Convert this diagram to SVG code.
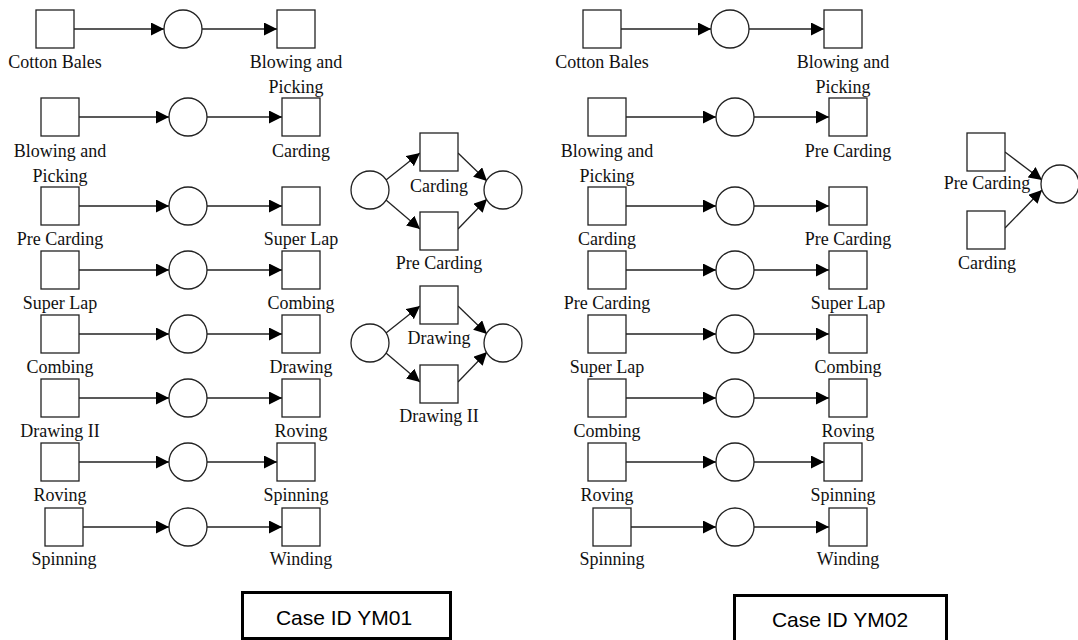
<svg xmlns="http://www.w3.org/2000/svg" width="1078" height="640" viewBox="0 0 1078 640">
<style>
.t{fill:#fff;stroke:#222;stroke-width:1.3}
.p{fill:#fff;stroke:#222;stroke-width:1.3}
.l{font-family:"Liberation Serif","Times New Roman",serif;font-size:18px;fill:#111;text-anchor:middle}
.a{stroke:#222;stroke-width:1.3;fill:none;marker-end:url(#ah)}
.c{fill:#fff;stroke:#000;stroke-width:3}
.ct{font-family:"Liberation Sans",Arial,sans-serif;font-size:21px;fill:#000;text-anchor:middle}
</style>
<defs>
<marker id="ah" markerUnits="userSpaceOnUse" markerWidth="13" markerHeight="13" refX="13" refY="6.5" orient="auto">
<path d="M0,0 L13,6.5 L0,13 z" fill="#000"/>
</marker>
</defs>
<rect width="1078" height="640" fill="#fff"/>
<g id="connectors">
<line class="a" x1="74" y1="29" x2="164" y2="29"/><line class="a" x1="202" y1="29" x2="277" y2="29"/>
<line class="a" x1="79" y1="117" x2="169" y2="117"/><line class="a" x1="207" y1="117" x2="282" y2="117"/>
<line class="a" x1="79" y1="206" x2="169" y2="206"/><line class="a" x1="207" y1="206" x2="282" y2="206"/>
<line class="a" x1="79" y1="270" x2="169" y2="270"/><line class="a" x1="207" y1="270" x2="282" y2="270"/>
<line class="a" x1="79" y1="334" x2="169" y2="334"/><line class="a" x1="207" y1="334" x2="282" y2="334"/>
<line class="a" x1="79" y1="398" x2="169" y2="398"/><line class="a" x1="207" y1="398" x2="282" y2="398"/>
<line class="a" x1="79" y1="462" x2="169" y2="462"/><line class="a" x1="207" y1="462" x2="277" y2="462"/>
<line class="a" x1="83" y1="527" x2="169" y2="527"/><line class="a" x1="207" y1="527" x2="282" y2="527"/>
<line class="a" x1="621" y1="29" x2="711" y2="29"/><line class="a" x1="749" y1="29" x2="824" y2="29"/>
<line class="a" x1="626" y1="117" x2="716" y2="117"/><line class="a" x1="754" y1="117" x2="829" y2="117"/>
<line class="a" x1="626" y1="206" x2="716" y2="206"/><line class="a" x1="754" y1="206" x2="829" y2="206"/>
<line class="a" x1="626" y1="270" x2="716" y2="270"/><line class="a" x1="754" y1="270" x2="829" y2="270"/>
<line class="a" x1="626" y1="334" x2="716" y2="334"/><line class="a" x1="754" y1="334" x2="829" y2="334"/>
<line class="a" x1="626" y1="398" x2="716" y2="398"/><line class="a" x1="754" y1="398" x2="829" y2="398"/>
<line class="a" x1="626" y1="462" x2="716" y2="462"/><line class="a" x1="754" y1="462" x2="824" y2="462"/>
<line class="a" x1="631" y1="527" x2="716" y2="527"/><line class="a" x1="754" y1="527" x2="829" y2="527"/>
<line class="a" x1="386" y1="180" x2="420" y2="153"/><line class="a" x1="386" y1="200" x2="420" y2="229"/>
<line class="a" x1="458" y1="153" x2="487" y2="181"/><line class="a" x1="458" y1="229" x2="487" y2="199"/>
<line class="a" x1="386" y1="333" x2="420" y2="306"/><line class="a" x1="386" y1="353" x2="420" y2="382"/>
<line class="a" x1="458" y1="306" x2="487" y2="334"/><line class="a" x1="458" y1="382" x2="487" y2="352"/>
<line class="a" x1="1005" y1="152" x2="1042" y2="180"/><line class="a" x1="1005" y1="228" x2="1042" y2="190"/>
</g>
<g id="L1a"><rect class="t" x="36" y="10" width="38" height="38"/><text class="l" x="55" y="68">Cotton Bales</text></g>
<g id="L1p"><circle class="p" cx="183" cy="29" r="19"/></g>
<g id="L1b"><rect class="t" x="277" y="10" width="38" height="38"/><text class="l" x="296" y="68">Blowing and</text><text class="l" x="296" y="93">Picking</text></g>
<g id="L2a"><rect class="t" x="41" y="98" width="38" height="38"/><text class="l" x="60" y="157">Blowing and</text><text class="l" x="60" y="182">Picking</text></g>
<g id="L2p"><circle class="p" cx="188" cy="117" r="19"/></g>
<g id="L2b"><rect class="t" x="282" y="98" width="38" height="38"/><text class="l" x="301" y="157">Carding</text></g>
<g id="L3a"><rect class="t" x="41" y="187" width="38" height="38"/><text class="l" x="60" y="245">Pre Carding</text></g>
<g id="L3p"><circle class="p" cx="188" cy="206" r="19"/></g>
<g id="L3b"><rect class="t" x="282" y="187" width="38" height="38"/><text class="l" x="301" y="245">Super Lap</text></g>
<g id="L4a"><rect class="t" x="41" y="251" width="38" height="38"/><text class="l" x="60" y="309">Super Lap</text></g>
<g id="L4p"><circle class="p" cx="188" cy="270" r="19"/></g>
<g id="L4b"><rect class="t" x="282" y="251" width="38" height="38"/><text class="l" x="301" y="309">Combing</text></g>
<g id="L5a"><rect class="t" x="41" y="315" width="38" height="38"/><text class="l" x="60" y="373">Combing</text></g>
<g id="L5p"><circle class="p" cx="188" cy="334" r="19"/></g>
<g id="L5b"><rect class="t" x="282" y="315" width="38" height="38"/><text class="l" x="301" y="373">Drawing</text></g>
<g id="L6a"><rect class="t" x="41" y="379" width="38" height="38"/><text class="l" x="60" y="437">Drawing II</text></g>
<g id="L6p"><circle class="p" cx="188" cy="398" r="19"/></g>
<g id="L6b"><rect class="t" x="282" y="379" width="38" height="38"/><text class="l" x="301" y="437">Roving</text></g>
<g id="L7a"><rect class="t" x="41" y="443" width="38" height="38"/><text class="l" x="60" y="501">Roving</text></g>
<g id="L7p"><circle class="p" cx="188" cy="462" r="19"/></g>
<g id="L7b"><rect class="t" x="277" y="443" width="38" height="38"/><text class="l" x="296" y="501">Spinning</text></g>
<g id="L8a"><rect class="t" x="45" y="508" width="38" height="38"/><text class="l" x="64" y="565">Spinning</text></g>
<g id="L8p"><circle class="p" cx="188" cy="527" r="19"/></g>
<g id="L8b"><rect class="t" x="282" y="508" width="38" height="38"/><text class="l" x="301" y="565">Winding</text></g>
<g id="M1p"><circle class="p" cx="370" cy="190" r="19"/></g>
<g id="M1a"><rect class="t" x="420" y="133" width="38" height="38"/><text class="l" x="439" y="192">Carding</text></g>
<g id="M1b"><rect class="t" x="420" y="212" width="38" height="38"/><text class="l" x="439" y="269">Pre Carding</text></g>
<g id="M1q"><circle class="p" cx="503" cy="190" r="19"/></g>
<g id="M2p"><circle class="p" cx="370" cy="343" r="19"/></g>
<g id="M2a"><rect class="t" x="420" y="286" width="38" height="38"/><text class="l" x="439" y="344">Drawing</text></g>
<g id="M2b"><rect class="t" x="420" y="365" width="38" height="38"/><text class="l" x="439" y="422">Drawing II</text></g>
<g id="M2q"><circle class="p" cx="503" cy="343" r="19"/></g>
<g id="R1a"><rect class="t" x="583" y="10" width="38" height="38"/><text class="l" x="602" y="68">Cotton Bales</text></g>
<g id="R1p"><circle class="p" cx="730" cy="29" r="19"/></g>
<g id="R1b"><rect class="t" x="824" y="10" width="38" height="38"/><text class="l" x="843" y="68">Blowing and</text><text class="l" x="843" y="93">Picking</text></g>
<g id="R2a"><rect class="t" x="588" y="98" width="38" height="38"/><text class="l" x="607" y="157">Blowing and</text><text class="l" x="607" y="182">Picking</text></g>
<g id="R2p"><circle class="p" cx="735" cy="117" r="19"/></g>
<g id="R2b"><rect class="t" x="829" y="98" width="38" height="38"/><text class="l" x="848" y="157">Pre Carding</text></g>
<g id="R3a"><rect class="t" x="588" y="187" width="38" height="38"/><text class="l" x="607" y="245">Carding</text></g>
<g id="R3p"><circle class="p" cx="735" cy="206" r="19"/></g>
<g id="R3b"><rect class="t" x="829" y="187" width="38" height="38"/><text class="l" x="848" y="245">Pre Carding</text></g>
<g id="R4a"><rect class="t" x="588" y="251" width="38" height="38"/><text class="l" x="607" y="309">Pre Carding</text></g>
<g id="R4p"><circle class="p" cx="735" cy="270" r="19"/></g>
<g id="R4b"><rect class="t" x="829" y="251" width="38" height="38"/><text class="l" x="848" y="309">Super Lap</text></g>
<g id="R5a"><rect class="t" x="588" y="315" width="38" height="38"/><text class="l" x="607" y="373">Super Lap</text></g>
<g id="R5p"><circle class="p" cx="735" cy="334" r="19"/></g>
<g id="R5b"><rect class="t" x="829" y="315" width="38" height="38"/><text class="l" x="848" y="373">Combing</text></g>
<g id="R6a"><rect class="t" x="588" y="379" width="38" height="38"/><text class="l" x="607" y="437">Combing</text></g>
<g id="R6p"><circle class="p" cx="735" cy="398" r="19"/></g>
<g id="R6b"><rect class="t" x="829" y="379" width="38" height="38"/><text class="l" x="848" y="437">Roving</text></g>
<g id="R7a"><rect class="t" x="588" y="443" width="38" height="38"/><text class="l" x="607" y="501">Roving</text></g>
<g id="R7p"><circle class="p" cx="735" cy="462" r="19"/></g>
<g id="R7b"><rect class="t" x="824" y="443" width="38" height="38"/><text class="l" x="843" y="501">Spinning</text></g>
<g id="R8a"><rect class="t" x="593" y="508" width="38" height="38"/><text class="l" x="612" y="565">Spinning</text></g>
<g id="R8p"><circle class="p" cx="735" cy="527" r="19"/></g>
<g id="R8b"><rect class="t" x="829" y="508" width="38" height="38"/><text class="l" x="848" y="565">Winding</text></g>
<g id="F1a"><rect class="t" x="967" y="133" width="38" height="38"/><text class="l" x="987" y="189">Pre Carding</text></g>
<g id="F1b"><rect class="t" x="967" y="211" width="38" height="38"/><text class="l" x="987" y="269">Carding</text></g>
<g id="F1p"><circle class="p" cx="1060" cy="184" r="19"/></g>
<g id="case1"><rect class="c" x="242.5" y="592.5" width="208" height="46"/><text class="ct" x="344" y="625">Case ID YM01</text></g>
<g id="case2"><rect class="c" x="734.5" y="595.5" width="212" height="46"/><text class="ct" x="840" y="627">Case ID YM02</text></g>
</svg>
